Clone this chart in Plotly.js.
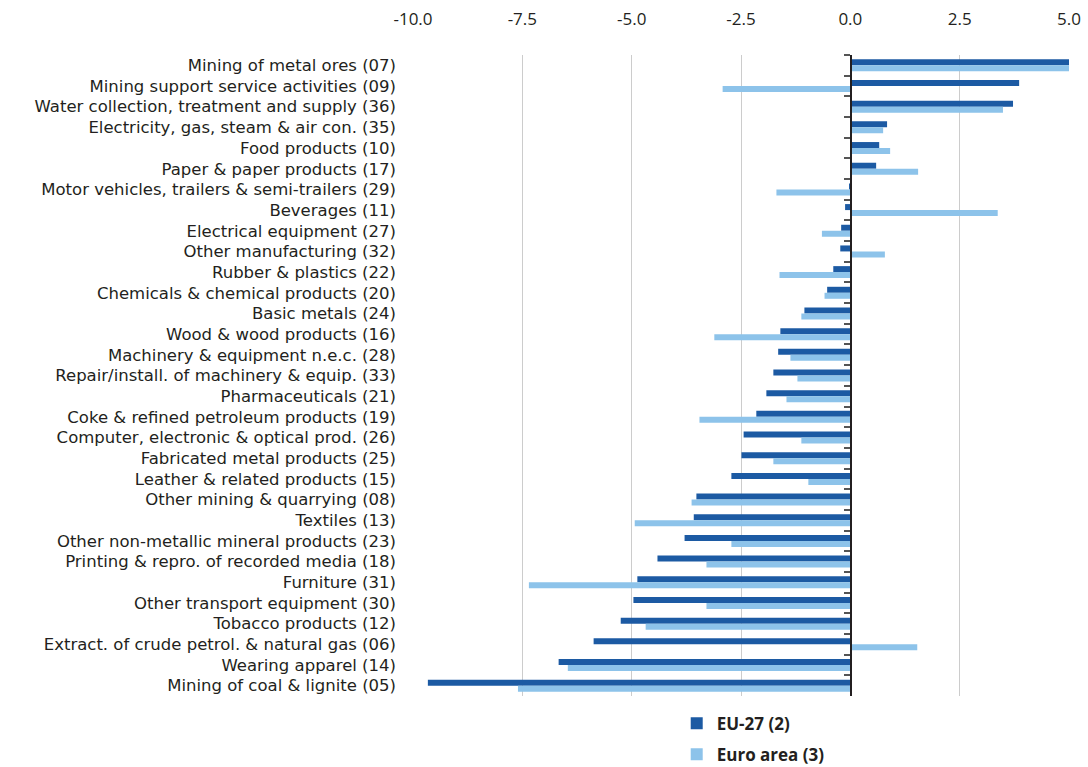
<!DOCTYPE html>
<html><head><meta charset="utf-8">
<script src="https://cdn.plot.ly/plotly-3.0.1.min.js"></script>
<style>html,body{margin:0;padding:0;background:#fff}#chart{width:1088px;height:767px}</style>
</head><body><div id="chart"></div>
<script>
const categories = [
  "Mining of metal ores (07)",
  "Mining support service activities (09)",
  "Water collection, treatment and supply (36)",
  "Electricity, gas, steam & air con. (35)",
  "Food products (10)",
  "Paper & paper products (17)",
  "Motor vehicles, trailers & semi-trailers (29)",
  "Beverages (11)",
  "Electrical equipment (27)",
  "Other manufacturing (32)",
  "Rubber & plastics (22)",
  "Chemicals & chemical products (20)",
  "Basic metals (24)",
  "Wood & wood products (16)",
  "Machinery & equipment n.e.c. (28)",
  "Repair/install. of machinery & equip. (33)",
  "Pharmaceuticals (21)",
  "Coke & refined petroleum products (19)",
  "Computer, electronic & optical prod. (26)",
  "Fabricated metal products (25)",
  "Leather & related products (15)",
  "Other mining & quarrying (08)",
  "Textiles (13)",
  "Other non-metallic mineral products (23)",
  "Printing & repro. of recorded media (18)",
  "Furniture (31)",
  "Other transport equipment (30)",
  "Tobacco products (12)",
  "Extract. of crude petrol. & natural gas (06)",
  "Wearing apparel (14)",
  "Mining of coal & lignite (05)"
];
const eu27 = [5.0, 3.86, 3.72, 0.84, 0.66, 0.59, -0.03, -0.12, -0.21, -0.23, -0.39, -0.53, -1.05, -1.60, -1.65, -1.76, -1.92, -2.15, -2.44, -2.49, -2.72, -3.52, -3.58, -3.79, -4.41, -4.87, -4.96, -5.25, -5.87, -6.67, -9.66];
const euroArea = [5.0, -2.92, 3.49, 0.75, 0.91, 1.55, -1.69, 3.37, -0.65, 0.79, -1.62, -0.59, -1.12, -3.11, -1.37, -1.21, -1.46, -3.45, -1.12, -1.76, -0.96, -3.63, -4.93, -2.72, -3.29, -7.35, -3.29, -4.68, 1.53, -6.46, -7.60];
const seriesNames = ["EU-27 (2)", "Euro area (3)"];
const xTicks = [-10, -7.5, -5, -2.5, 0, 2.5, 5];
const xTickText = xTicks.map(v => v.toFixed(1));

const FONT = "Open Sans, sans-serif";
const LABEL_FONT = "DejaVu Sans, sans-serif";
const catRange = [categories.length - 0.5, -0.5];
const traces = [
  {type:'bar', orientation:'h', name:seriesNames[0], y:categories, x:eu27,
   marker:{color:'#1c5aa3'}, legendgroup:'a'},
  {type:'bar', orientation:'h', name:seriesNames[1], y:categories, x:euroArea,
   marker:{color:'#8dc3ea'}, legendgroup:'b'},
  {type:'scatter', mode:'markers', y:categories, x:categories.map(()=>null),
   yaxis:'y2', showlegend:false, hoverinfo:'skip'}
];
const layout = {
  width:1088, height:767,
  margin:{l:413, r:19, t:55, b:71, autoexpand:false},
  paper_bgcolor:'#fff', plot_bgcolor:'#fff',
  barmode:'group', bargap:0.42, bargroupgap:0,
  font:{family:FONT, size:18, color:'#231f20'},
  xaxis:{side:'top', range:[-10,5], tickvals:xTicks, ticktext:xTickText,
    showgrid:true, gridcolor:'#cccccc', gridwidth:1, zeroline:false,
    ticks:'outside', ticklen:22, tickcolor:'rgba(0,0,0,0)', showline:false,
    tickfont:{size:17, color:'#231f20'}, fixedrange:true, automargin:false},
  yaxis:{type:'category', autorange:false, range:catRange, showgrid:false, zeroline:false,
    showline:false, ticks:'', ticklabelstandoff:16, tickmode:'linear', dtick:1,
    tickfont:{family:LABEL_FONT, size:16.5, color:'#231f20'}, fixedrange:true, automargin:false},
  yaxis2:{type:'category', overlaying:'y', autorange:false, range:catRange,
    anchor:'free', position:10/15, side:'left',
    showticklabels:false, ticks:'outside', tickson:'boundaries', ticklen:6,
    tickmode:'linear', dtick:1,
    tickcolor:'#555', tickwidth:2, showline:true, linecolor:'#231f20', linewidth:1.5,
    showgrid:false, zeroline:false, fixedrange:true, automargin:false},
  showlegend:true,
  legend:{orientation:'v', x:0.402, xanchor:'left', y:-0.015, yanchor:'top',
    traceorder:'grouped', tracegroupgap:6,
    font:{family:FONT, size:17, color:'#231f20', weight:'bold'}, bgcolor:'rgba(0,0,0,0)'}
};
Plotly.newPlot('chart', traces, layout, {displayModeBar:false, staticPlot:true});
</script>
</body></html>
